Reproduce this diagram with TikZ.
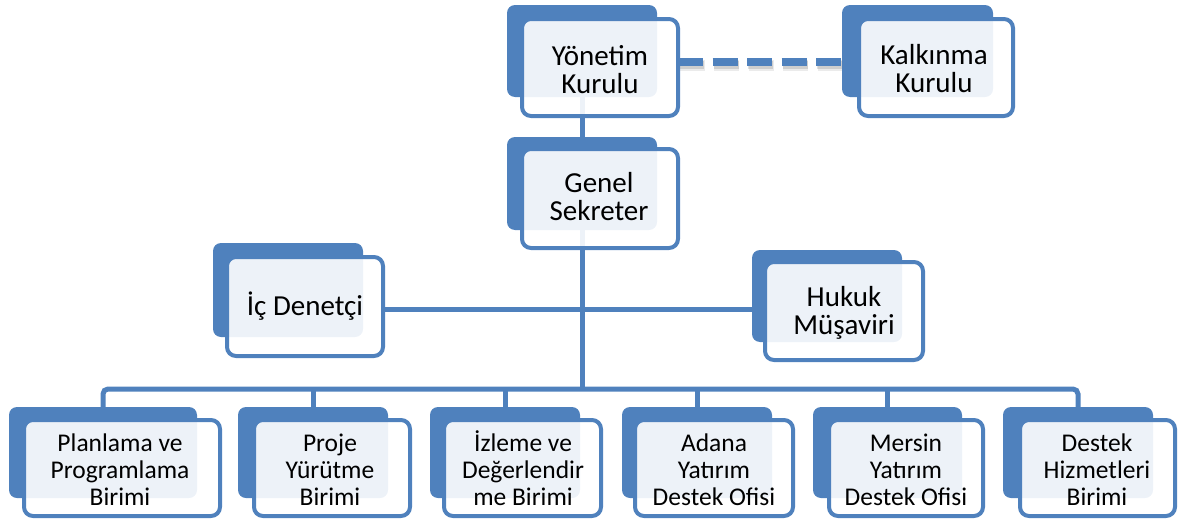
\documentclass[tikz,border=0pt]{standalone}
\usepackage{fontspec}
\setmainfont{Carlito}
\pgfdeclarelayer{bg}
\pgfsetlayers{bg,main}
\definecolor{obblue}{RGB}{79,129,189}
\newcommand\lns[1]{\begin{tabular}[t]{@{}c@{}}#1\end{tabular}}
\newcommand\obox[9]{%
  \pgfmathsetmacro\oboxbw{#4-#2}\pgfmathsetmacro\oboxbh{#5-#3}%
  \pgfmathsetmacro\oboxbx{(#2+#4)/2}\pgfmathsetmacro\oboxby{(#3+#5)/2}%
  \pgfmathsetmacro\oboxfw{#8-#6-4}\pgfmathsetmacro\oboxfh{#9-#7-4}%
  \pgfmathsetmacro\oboxfx{(#6+#8)/2}\pgfmathsetmacro\oboxfy{(#7+#9)/2}%
  \node[backbox, minimum width=\oboxbw pt, minimum height=\oboxbh pt] (#1b) at (\oboxbx,\oboxby) {};
  \node[frontbox, minimum width=\oboxfw pt, minimum height=\oboxfh pt] (#1f) at (\oboxfx,\oboxfy) {};
}
\begin{document}
\begin{tikzpicture}[x=1pt,y=-1pt,
  backbox/.style={fill=obblue, draw=none, rounded corners=8pt, inner sep=0pt, outer sep=0pt, shape=rectangle},
  frontbox/.style={draw=obblue, line width=4pt, fill=white, fill opacity=0.9, rounded corners=9pt, inner sep=0pt, outer sep=0pt, shape=rectangle},
  conn/.style={draw=obblue, line width=5pt},
  dashln/.style={draw=obblue, line width=8pt, dash pattern=on 25pt off 9.5pt},
  bigtxt/.style={font=\fontsize{29}{28}\selectfont, anchor=base, inner sep=0pt, text=black},
  smalltxt/.style={font=\fontsize{25.5}{27}\selectfont, anchor=base, inner sep=0pt, text=black}]
\useasboundingbox (0,0) rectangle (1181,522);

% boxes: name, back x0,y0,x1,y1, front x0,y0,x1,y1
\obox{yk}{507}{5}{657}{97}{520}{17}{680}{118}
\obox{kk}{842}{5}{993}{97}{857}{17}{1015}{118}
\obox{gs}{507}{137}{657}{230}{520}{147}{680}{250}
\obox{ic}{213}{243}{363}{337}{225}{255}{385}{358}
\obox{hm}{752}{250}{902}{342}{763}{260}{925}{362}
\obox{pp}{9}{407}{197}{498}{22}{418}{222}{518}
\obox{py}{238}{407}{388}{498}{252}{418}{412}{518}
\obox{id}{430}{407}{580}{498}{442}{418}{603}{518}
\obox{ay}{622}{407}{772}{498}{633}{418}{795}{518}
\obox{my}{813}{407}{962}{498}{827}{418}{985}{518}
\obox{dh}{1003}{407}{1153}{498}{1018}{418}{1177}{518}

% texts
\node[bigtxt] (ykt) at (600,65) {\lns{Yönetim\\Kurulu}};
\node[bigtxt] (kkt) at (934,64) {\lns{Kalkınma\\Kurulu}};
\node[bigtxt] (gst) at (599,192) {\lns{Genel\\Sekreter}};
\node[bigtxt] (ict) at (305,315) {İç Denetçi};
\node[bigtxt] (hmt) at (844,306) {\lns{Hukuk\\Müşaviri}};
\node[smalltxt] (ppt) at (120,451) {\lns{Planlama ve\\Programlama\\Birimi}};
\node[smalltxt] (pyt) at (330,451) {\lns{Proje\\Yürütme\\Birimi}};
\node[smalltxt] (idt) at (523,451) {\lns{İzleme ve\\Değerlendir\\me Birimi}};
\node[smalltxt] (ayt) at (714,451) {\lns{Adana\\Yatırım\\Destek Ofisi}};
\node[smalltxt] (myt) at (906,451) {\lns{Mersin\\Yatırım\\Destek Ofisi}};
\node[smalltxt] (dht) at (1097,451) {\lns{Destek\\Hizmetleri\\Birimi}};

\coordinate (bus) at (582,389);
\coordinate (mid) at (582,309);
\coordinate (dl) at (0,62);

\begin{pgfonlayer}{bg}
  % dashed link with soft shadow
  \draw[dashln, draw=black, opacity=0.08, line width=11pt, transform canvas={xshift=1.5pt,yshift=-3pt}] (ykf.east |- dl) -- (kkb.west |- dl);
  \draw[dashln, draw=black, opacity=0.12, line width=8pt, transform canvas={xshift=1pt,yshift=-2.5pt}] (ykf.east |- dl) -- (kkb.west |- dl);
  \draw[dashln] (ykf.east |- dl) -- (kkb.west |- dl);
  % hierarchy
  \draw[conn] (ykb.south) -- (gsb.north);
  \draw[conn] (gsb.south) -- (bus);
  \draw[conn] (icf.east |- mid) -- (hmb.west |- mid);
  \draw[conn, rounded corners=5pt] (ppb.north) |- (dhb.north |- bus) -- (dhb.north);
  \draw[conn] (pyb.north) -- (pyb.north |- bus);
  \draw[conn] (idb.north) -- (idb.north |- bus);
  \draw[conn] (ayb.north) -- (ayb.north |- bus);
  \draw[conn] (myb.north) -- (myb.north |- bus);
\end{pgfonlayer}
\end{tikzpicture}
\end{document}
